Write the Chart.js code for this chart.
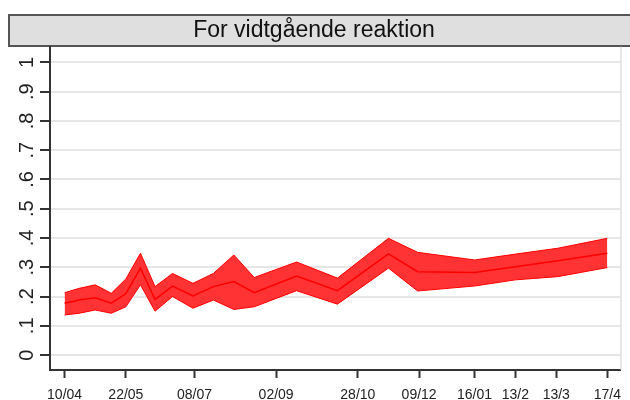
<!DOCTYPE html>
<html>
<head>
<meta charset="utf-8">
<script src="https://cdn.jsdelivr.net/npm/chart.js@4/dist/chart.umd.min.js"></script>
<style>
	html, body { margin: 0; padding: 0; background: #fff; }
	#wrap { width: 630px; height: 400px; }
</style>
</head>
<body>
<div id="wrap"><canvas id="chart" width="630" height="400"></canvas></div>
<script>
// days since 10/04
const days = [0, 10, 21, 32, 42, 52, 62, 74, 88, 102, 116, 130, 159, 187, 222, 242, 281, 309, 338, 372];
const upper = [0.213, 0.228, 0.240, 0.211, 0.260, 0.348, 0.234, 0.279, 0.245, 0.279, 0.342, 0.265, 0.318, 0.263, 0.399, 0.351, 0.325, 0.345, 0.365, 0.399];
const estimate = [0.177, 0.188, 0.196, 0.177, 0.210, 0.297, 0.190, 0.236, 0.202, 0.234, 0.251, 0.213, 0.270, 0.220, 0.346, 0.285, 0.282, 0.302, 0.322, 0.348];
const lower = [0.137, 0.143, 0.154, 0.143, 0.165, 0.240, 0.150, 0.200, 0.160, 0.188, 0.156, 0.165, 0.220, 0.174, 0.297, 0.219, 0.236, 0.257, 0.268, 0.299];

const tickDays = [0, 42, 89, 145, 201, 243, 281, 309, 337, 372];
const tickLabels = ['10/04', '22/05', '08/07', '02/09', '28/10', '09/12', '16/01', '13/2', '13/3', '17/4'];
const yTicks = [0, 0.1, 0.2, 0.3, 0.4, 0.5, 0.6, 0.7, 0.8, 0.9, 1];
const yLabels = ['0', '.1', '.2', '.3', '.4', '.5', '.6', '.7', '.8', '.9', '1'];

const titleText = 'For vidtgående reaktion';
const font = '"Liberation Sans", Arial, sans-serif';

function pts(arr) {
	return days.map(function (d, i) { return { x: d, y: arr[i] }; });
}

// grey title box + light right border, like the stata graph
const frame = {
	id: 'frame',
	beforeDraw: function (chart) {
		const c = chart.ctx;
		c.save();
		c.fillStyle = '#dfdfdf';
		c.fillRect(9, 15, 640, 31);
		c.strokeStyle = '#555';
		c.lineWidth = 2;
		c.strokeRect(9, 15, 640, 31);
		c.restore();
	},
	afterDraw: function (chart) {
		const a = chart.chartArea;
		const c = chart.ctx;
		c.save();
		c.strokeStyle = '#cfcfcf';
		c.lineWidth = 1;
		c.beginPath();
		c.moveTo(a.right + 0.5, a.top);
		c.lineTo(a.right + 0.5, a.bottom);
		c.stroke();
		c.restore();
	}
};

const ctx = document.getElementById('chart').getContext('2d');
new Chart(ctx, {
	type: 'line',
	data: {
		datasets: [{
			label: 'lower',
			data: pts(lower),
			borderColor: '#ff0000',
			borderWidth: 1,
			pointRadius: 0,
			fill: false,
			order: 2
		}, {
			label: 'upper',
			data: pts(upper),
			borderColor: '#ff0000',
			backgroundColor: '#ff3333',
			borderWidth: 1,
			pointRadius: 0,
			fill: '-1',
			order: 1
		}, {
			label: 'estimate',
			data: pts(estimate),
			borderColor: '#ff0000',
			borderWidth: 1.5,
			pointRadius: 0,
			fill: false,
			order: 0
		}]
	},
	options: {
		responsive: false,
		animation: false,
		layout: { padding: { top: 0, right: 2, left: 0, bottom: 0 } },
		plugins: {
			legend: { display: false },
			tooltip: { enabled: false },
			filler: { drawTime: 'beforeDatasetsDraw' },
			title: {
				display: true,
				text: titleText,
				color: '#111',
				font: { family: font, size: 23, weight: 'normal', lineHeight: 1.2 },
				padding: { top: 17, bottom: 2 }
			}
		},
		elements: { line: { tension: 0 } },
		scales: {
			x: {
				type: 'linear',
				min: -10,
				max: 381,
				afterBuildTicks: function (scale) {
					scale.ticks = tickDays.map(function (v) { return { value: v }; });
				},
				afterFit: function (scale) { scale.height = 30; },
				grid: { drawOnChartArea: false, tickLength: 8, tickColor: '#333', tickWidth: 2 },
				border: { color: '#333', width: 2 },
				ticks: {
					autoSkip: false,
					maxRotation: 0,
					padding: 9,
					color: '#222',
					font: { family: font, size: 14 },
					callback: function (v, i) { return tickLabels[i]; }
				}
			},
			y: {
				min: -0.051,
				max: 1.054,
				afterBuildTicks: function (scale) {
					scale.ticks = yTicks.map(function (v) { return { value: v }; });
				},
				afterFit: function (scale) { scale.width = 50; },
				grid: { color: '#e6e6e6', lineWidth: 2, tickLength: 10, tickColor: '#333', tickWidth: 2 },
				border: { color: '#333', width: 2 },
				ticks: {
					minRotation: 90,
					maxRotation: 90,
					crossAlign: 'center',
					padding: 4,
					color: '#222',
					font: { family: font, size: 20 },
					callback: function (v, i) { return yLabels[i]; }
				}
			}
		}
	},
	plugins: [frame]
});
</script>
</body>
</html>
